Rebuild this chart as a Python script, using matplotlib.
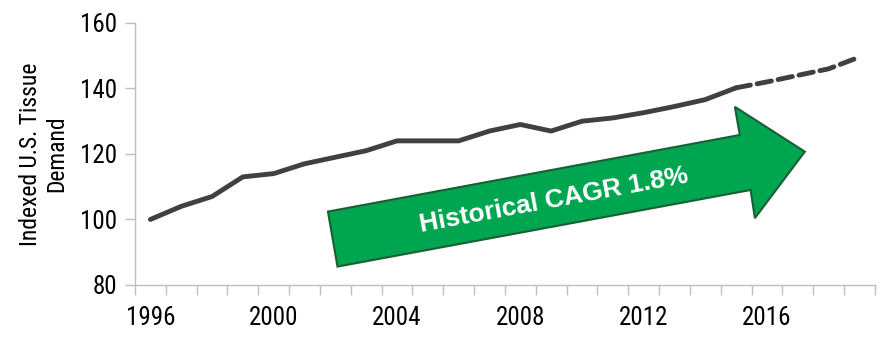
import matplotlib
matplotlib.use("Agg")
import matplotlib.pyplot as plt
from matplotlib.patches import Polygon

plt.rcParams['font.family'] = ['Roboto Condensed', 'Archivo Narrow', 'DejaVu Sans']

# Indexed U.S. tissue demand (1996 = 100); 2015 onward is the projection
years = list(range(1996, 2020))
demand = [100, 104, 107, 113, 114, 117, 119, 121, 124, 124, 124, 127,
          129, 127, 130, 131, 132.6, 134.5, 136.6, 140.2, 142, 144, 146, 149.6]
last_actual = 2015
year_labels = ["1996", "2000", "2004", "2008", "2012", "2016"]
cagr_text = "Historical CAGR 1.8%"

x = list(range(len(years)))
split = years.index(last_actual)

fig = plt.figure(figsize=(8.85, 3.38), dpi=100)
ax = fig.add_axes([0.1525, 0.157, 0.836, 0.775])

line_color = "#404040"
ax.plot(x[:split + 1], demand[:split + 1], color=line_color, lw=3.5,
        solid_capstyle="round", solid_joinstyle="round", zorder=3)
ax.plot(x[split:], demand[split:], color=line_color, lw=3.5,
        dashes=(3.0, 1.4), dash_capstyle="round", zorder=3)

ax.set_xlim(-0.5, len(years) - 0.5)
ax.set_ylim(80, 160)
ax.set_yticks([80, 100, 120, 140, 160])

# year labels sit on category centres, tick marks on category boundaries
ax.set_xticks([years.index(int(y)) for y in year_labels])
ax.set_xticklabels(year_labels)
ax.set_xticks([i - 0.5 for i in range(len(years) + 1)], minor=True)
ax.tick_params(axis="x", which="major", length=0, pad=15, labelsize=18)
ax.tick_params(axis="x", which="minor", length=7, width=1, color="#BFBFBF")
ax.tick_params(axis="y", length=7, width=1, color="#BFBFBF", labelsize=18, pad=6)

for side in ("top", "right"):
    ax.spines[side].set_visible(False)
for side in ("left", "bottom"):
    ax.spines[side].set_color("#BFBFBF")
    ax.spines[side].set_linewidth(1)

ax.set_ylabel("Indexed U.S. Tissue\nDemand", fontsize=17, linespacing=1.2, labelpad=8)

# green growth arrow
arrow_pts = [(5.76, 102.4), (19.12, 125.8), (18.96, 134.4), (21.23, 120.7),
             (19.61, 100.4), (19.47, 109.0), (6.07, 85.6)]
ax.add_patch(Polygon(arrow_pts, closed=True, facecolor="#00A64F",
                     edgecolor="#1B5E35", lw=1.5, zorder=4, clip_on=False))
ax.text(13.1, 106.0, cagr_text, rotation=10.5, rotation_mode="anchor",
        ha="center", va="center", color="white", fontsize=19,
        fontweight="bold", family=["Liberation Sans", "DejaVu Sans"], zorder=5)

fig.savefig("out.png", dpi=100)
